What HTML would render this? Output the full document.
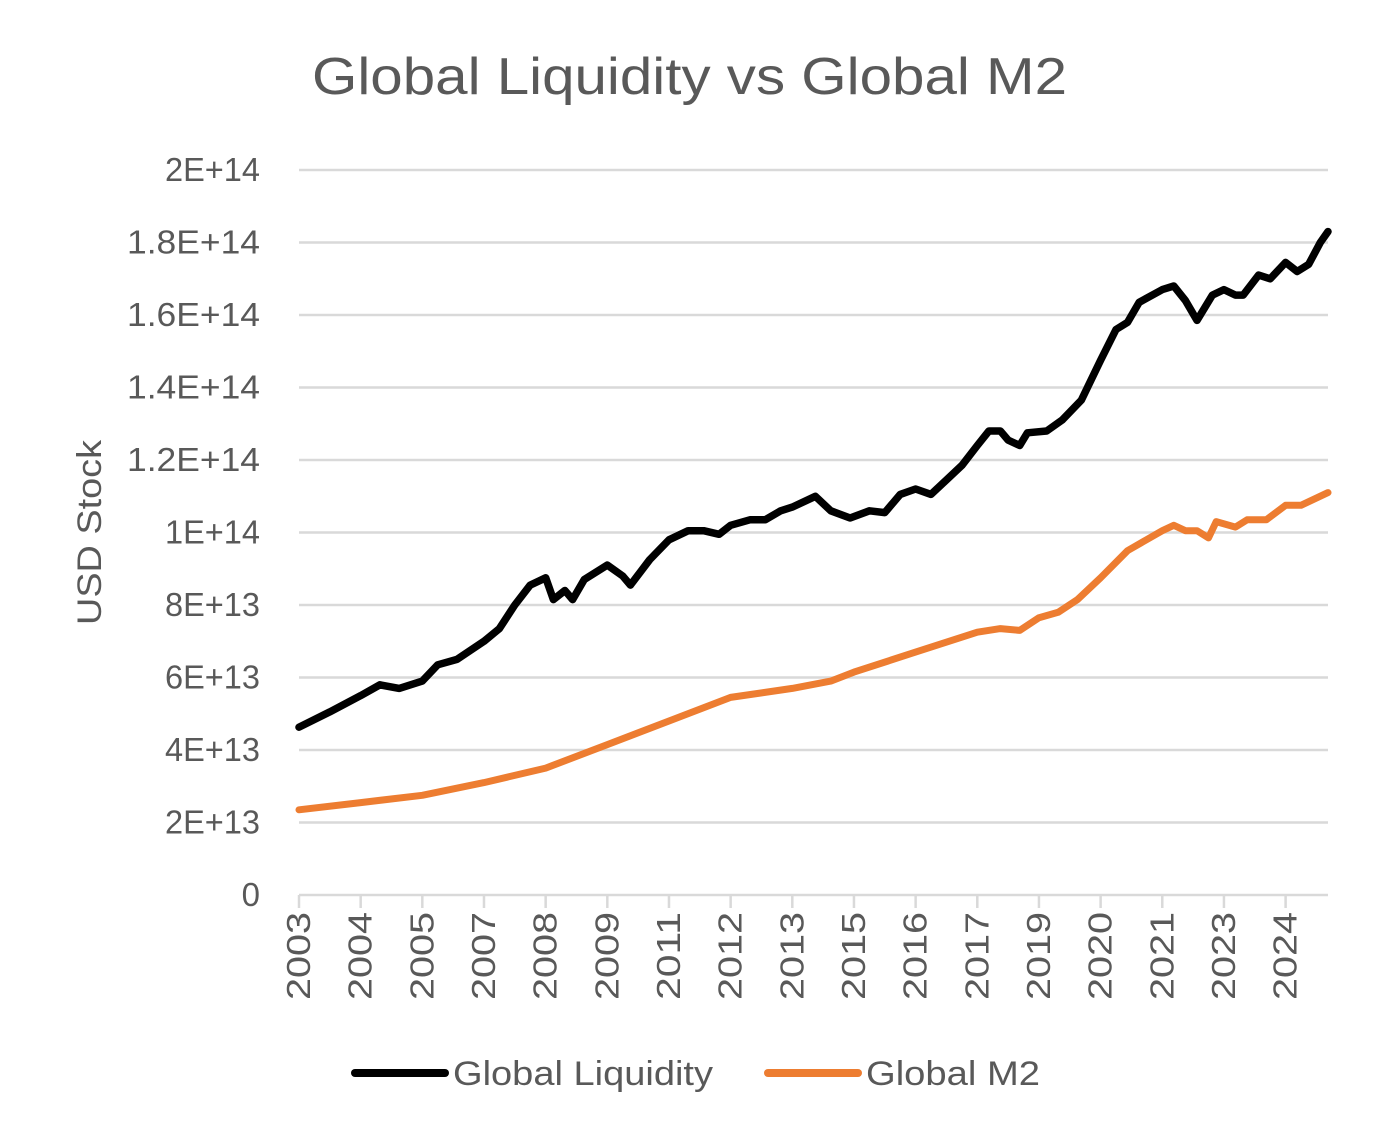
<!DOCTYPE html>
<html><head><meta charset="utf-8"><style>
body{margin:0;background:#fff;}
svg{display:block;font-family:"Liberation Sans",sans-serif;}
</style></head><body>
<svg id="chart" width="1379" height="1140" viewBox="0 0 1379 1140">
<rect width="1379" height="1140" fill="#fff"/>
<text x="312" y="94" font-size="52" textLength="755" lengthAdjust="spacingAndGlyphs" fill="#595959">Global Liquidity vs Global M2</text>
<text transform="translate(101,625) rotate(-90)" font-size="34" textLength="185" lengthAdjust="spacingAndGlyphs" fill="#595959">USD Stock</text>
<g id="grid"></g><g id="yticks"></g><g id="xaxis"></g><g id="series"></g>
<g>
<line x1="355" y1="1073" x2="445" y2="1073" stroke="#000" stroke-width="8" stroke-linecap="round"/>
<text x="453" y="1085" font-size="34" textLength="260" lengthAdjust="spacingAndGlyphs" fill="#595959">Global Liquidity</text>
<line x1="768" y1="1073" x2="858" y2="1073" stroke="#ED7D31" stroke-width="8" stroke-linecap="round"/>
<text x="866" y="1085" font-size="34" textLength="174" lengthAdjust="spacingAndGlyphs" fill="#595959">Global M2</text>
</g>
</svg>
<script>
const yTicks=[0,2,4,6,8,10,12,14,16,18,20];
const yTickLabels=["0","2E+13","4E+13","6E+13","8E+13","1E+14","1.2E+14","1.4E+14","1.6E+14","1.8E+14","2E+14"];
const xTickLabels=["2003","2004","2005","2007","2008","2009","2011","2012","2013","2015","2016","2017","2019","2020","2021","2023","2024"];
const xTickMonths=[0,16,32,48,64,80,96,112,128,144,160,176,192,208,224,240,256];
const liqMonths=[0,8,16,21,26,32,36,41,48,52,56,60,64,66,69,71,74,80,84,86,91,96,101,105,109,112,117,121,125,128,134,138,143,148,152,156,160,164,168,172,176,179,182,184,187,189,194,198,203,208,212,215,218,224,227,230,233,237,240,243,245,249,252,256,259,262,265,267];
const liqValues=[4.63,5.05,5.5,5.8,5.7,5.9,6.35,6.5,7.0,7.35,8.0,8.55,8.75,8.15,8.4,8.15,8.7,9.1,8.8,8.55,9.25,9.8,10.05,10.05,9.95,10.2,10.35,10.35,10.6,10.7,11.0,10.6,10.4,10.6,10.55,11.05,11.2,11.05,11.45,11.85,12.4,12.8,12.8,12.55,12.4,12.75,12.8,13.1,13.65,14.75,15.6,15.8,16.35,16.7,16.8,16.4,15.85,16.55,16.7,16.55,16.55,17.1,17.0,17.45,17.2,17.4,18.0,18.3];
const m2Months=[0,16,32,48,64,80,96,112,128,138,144,160,176,182,187,192,197,202,208,215,224,227,230,233,236,238,243,246,251,256,260,267];
const m2Values=[2.35,2.55,2.75,3.1,3.5,4.15,4.8,5.45,5.7,5.9,6.15,6.7,7.25,7.35,7.3,7.65,7.8,8.15,8.75,9.5,10.05,10.2,10.05,10.05,9.85,10.3,10.15,10.35,10.35,10.75,10.75,11.1];
const X0=299,X1=1328,NM=267,Y0=895,YPX=36.25;
const xs=m=>X0+(X1-X0)*m/NM;
const ys=v=>Y0-v*YPX;
const NS="http://www.w3.org/2000/svg";
function mk(tag,parent,attrs){const e=document.createElementNS(NS,tag);for(const k in attrs)e.setAttribute(k,attrs[k]);document.getElementById(parent).appendChild(e);return e;}
yTicks.forEach((t,i)=>{
  if(t>0){const g=mk('line','grid',{x1:X0,x2:X1,y1:ys(t),y2:ys(t),stroke:'#d9d9d9','stroke-width':2.5});
  
  }
  const lab=yTickLabels[i];
  const attrs={x:260,y:ys(t)+11,'text-anchor':'end','font-size':33,fill:'#595959'};
  if(lab.length>1){attrs.textLength=lab.length*19;attrs.lengthAdjust='spacingAndGlyphs';}
  const tx=mk('text','yticks',attrs);
  tx.textContent=lab;
  
  
});
const ax=mk('line','xaxis',{x1:X0,x2:X1,y1:Y0,y2:Y0,stroke:'#d9d9d9','stroke-width':2.5});


xTickMonths.forEach((m,i)=>{
  const tk=mk('line','xaxis',{x1:xs(m),x2:xs(m),y1:Y0,y2:Y0+13,stroke:'#d9d9d9','stroke-width':2.5});
  
  
  const tx=mk('text','xaxis',{transform:`translate(${xs(m)+11},${Y0+17}) rotate(-90)`,'text-anchor':'end','font-size':33,textLength:88,lengthAdjust:'spacingAndGlyphs',fill:'#595959'});
  tx.textContent=xTickLabels[i];
  
  
});
function path(ms,vs,color,w,name){
  const d=ms.map((m,i)=>(i?'L':'M')+xs(m).toFixed(1)+','+ys(vs[i]).toFixed(1)).join('');
  const p=mk('path','series',{d:d,fill:'none',stroke:color,'stroke-width':w,'stroke-linejoin':'round','stroke-linecap':'round'});
  
  
}
path(m2Months,m2Values,'#ED7D31',7,'series-global-m2');
path(liqMonths,liqValues,'#000',7.5,'series-global-liquidity');
</script>
</body></html>
